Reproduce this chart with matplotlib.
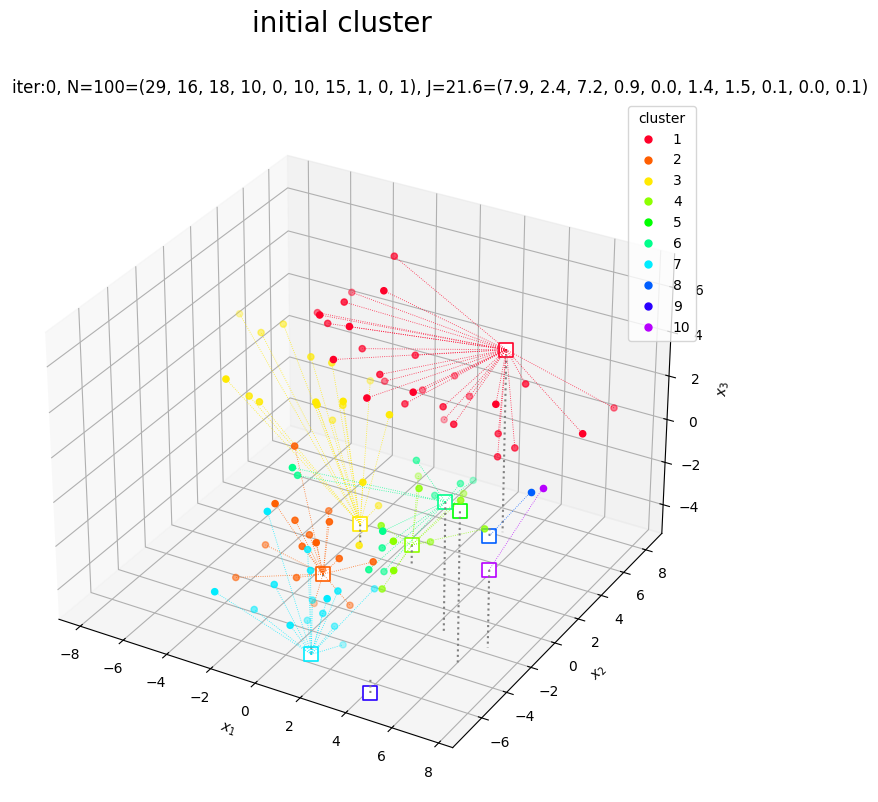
import numpy as np, matplotlib
matplotlib.use('Agg')
import matplotlib.pyplot as plt
from matplotlib.lines import Line2D

# --- data (x1, x2, x3) ---
centroids = [(2.95,6.3,3.15),(-1.6,-0.4,-5.2),(-1.5,2.4,-4.3),(1.0,2.2,-4.4),(6.1,-3.3,1.6),
             (4.5,-1.5,0.6),(0.5,-4.9,-5.8),(2.3,6.4,-5.8),(3.6,-5.7,-6.1),(6.5,-1.6,-1.8)]
cluster1 = [(-1.6,5.3,6.6),(-3.6,5.4,4.4),(-0.6,2.7,6.5),(-2.5,2.9,5.4),(-4.2,3.7,4.1),(-2.5,1.0,5.7),
            (-3.2,2.8,4.3),(-1.4,1.4,5.3),(-1.8,3.1,3.4),(-1.6,0.5,4.2),(0.1,4.0,3.2),(-0.6,2.4,2.9),
            (-1.4,4.2,1.5),(1.4,1.5,3.1),(0.0,4.8,1.2),(-0.1,0.5,2.9),(0.2,3.0,1.5),(0.8,6.0,1.5),
            (1.7,5.6,1.0),(1.7,3.4,1.6),(0.4,5.9,-0.6),(2.4,3.0,1.2),(4.3,2.9,2.7),(4.3,5.4,2.4),
            (6.8,8.3,0.6),(7.5,4.1,1.7),(3.7,4.3,0.5),(4.4,4.4,0.0),(3.9,3.9,-0.3)]
cluster2 = [(-3.1,0.0,0.1),(-2.7,-2.2,-1.3),(-2.2,1.1,-3.2),(-2.4,-1.2,-2.5),(-1.0,-0.9,-2.3),(-2.1,-0.6,-3.4),
            (-4.4,-0.2,-4.8),(-0.9,-2.1,-2.6),(-1.9,-1.5,-3.4),(-0.5,-1.0,-3.8),(0.7,-0.4,-3.9),(-4.9,-1.7,-5.7),
            (-2.3,-1.3,-5.1),(-2.8,0.9,-7.7),(-1.0,0.7,-7.1),(-1.8,-0.1,-5.2)]
cluster3 = [(-9.1,5.7,1.8),(-7.4,4.6,1.9),(-6.7,5.2,2.2),(-4.7,4.0,1.8),(-3.9,4.3,1.6),(-3.6,6.9,-0.4),
            (-6.3,0.1,2.2),(-6.1,1.5,0.8),(-5.5,1.3,0.8),(-3.0,1.5,1.4),(-3.3,2.1,0.9),(-2.1,2.1,1.4),
            (-3.1,3.8,0.1),(-4.0,4.5,-1.2),(-0.5,3.0,0.8),(-0.8,1.4,-1.6),(-1.5,3.9,-4.2),(-0.8,1.1,-4.4)]
cluster4 = [(-0.6,5.6,-3.4),(1.2,2.4,-1.8),(1.5,5.6,-3.6),(2.6,3.3,-2.4),(0.1,1.3,-3.3),(1.5,-0.2,-2.8),
            (1.3,3.2,-4.7),(3.7,3.3,-3.4),(1.8,-0.7,-3.8),(0.6,0.5,-5.7)]
cluster5 = []
cluster6 = [(3.0,-1.1,1.8),(4.5,-0.3,0.8),(4.1,1.5,-0.1),(3.6,-0.7,0.2),(3.9,-5.3,1.1),(3.2,-4.1,-0.5),
            (3.3,-5.3,-0.8),(3.0,-3.6,-1.9),(0.4,-6.0,3.2),(-0.1,-4.8,2.1)]
cluster7 = [(-1.1,-5.4,0.5),(-0.1,-4.1,-1.6),(0.2,-4.4,-2.3),(-0.9,-5.3,-2.8),(-2.1,-7.7,-2.2),(1.3,-4.2,-3.0),
            (1.5,-1.7,-4.2),(-0.5,-3.1,-4.6),(1.7,-5.7,-2.4),(-2.2,-4.7,-4.7),(0.5,-4.0,-4.4),(-0.8,-3.0,-5.7),
            (0.4,-6.3,-3.7),(0.5,-3.1,-5.5),(0.3,-2.1,-7.0)]
cluster8 = [(4.4,5.9,-2.8)]
cluster9 = []
cluster10 = [(8.6,-1.4,2.4)]
clusters = [cluster1,cluster2,cluster3,cluster4,cluster5,cluster6,cluster7,cluster8,cluster9,cluster10]
labels = [str(i) for i in range(1,11)]
title = 'iter:0, N=100=(29, 16, 18, 10, 0, 10, 15, 1, 0, 1), J=21.6=(7.9, 2.4, 7.2, 0.9, 0.0, 1.4, 1.5, 0.1, 0.0, 0.1)'

W,H=879,802
XL,YL,ZL=(-9,8.6),(-8.28,9.48),(-5.37,7.49)
S=700
fig=plt.figure(figsize=(W/100,H/100),dpi=100)
ax=fig.add_axes([6.5/W,5.5/H,S/W,S/H],projection='3d')
ax.set_box_aspect((4,4,2.9),zoom=0.9933)
ax.set_xlim(*XL);ax.set_ylim(*YL);ax.set_zlim(*ZL)
ax.set_xticks(range(-8,9,2));ax.set_yticks(range(-6,9,2));ax.set_zticks(range(-4,7,2))
ax.set_xlabel('$x_1$');ax.set_ylabel('$x_2$');ax.set_zlabel('$x_3$')
ax.computed_zorder=False
fig.text(342/W,1-10/H,'initial cluster',fontsize=20,ha='center',va='top')
fig.text(440/W,1-93/H,title,fontsize=12.01,ha='center',va='baseline')
cols=[plt.cm.gist_rainbow(i/10) for i in range(10)]
hs=[Line2D([],[],ls='',marker='o',color=c,ms=5) for c in cols]
fig.legend(hs,labels,title='cluster',loc='upper right',bbox_to_anchor=(696/W,1-106/H),borderaxespad=0)

for k,c in enumerate(centroids):
    ax.scatter([c[0]],[c[1]],[c[2]],marker='s',s=100,facecolor='white',edgecolor=cols[k],linewidth=1.2,depthshade=False,zorder=2)
    ax.plot([c[0],c[0]],[c[1],c[1]],[c[2],ZL[0]],color='gray',lw=1.5,ls=':',zorder=3)
    pts=clusters[k]
    for q in pts:
        ax.plot([c[0],q[0]],[c[1],q[1]],[c[2],q[2]],color=cols[k],lw=.6,ls=':',alpha=.85,zorder=3)
    if pts:
        a=np.array(pts)
        ax.scatter(a[:,0],a[:,1],a[:,2],color=cols[k],s=20,zorder=5 if k==0 else 4)
fig.savefig('out.png',dpi=100)
